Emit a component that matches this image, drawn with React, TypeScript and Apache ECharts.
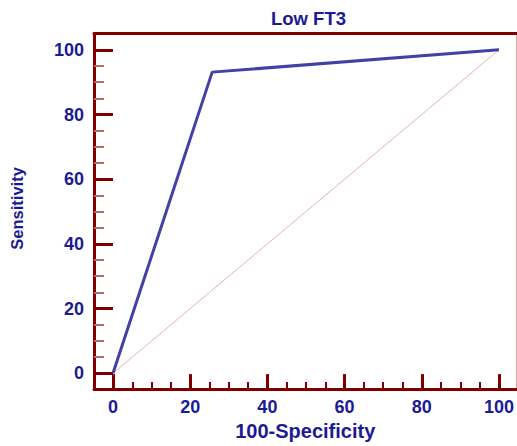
import React, { useEffect, useRef } from "react";
import * as echarts from "echarts";

const titleText = "Low FT3";
const xName = "100-Specificity";
const yName = "Sensitivity";
const majorTicks = [0, 20, 40, 60, 80, 100];
const minorTicks = [5, 10, 15, 25, 30, 35, 45, 50, 55, 65, 70, 75, 85, 90, 95];
const rocPoints: [number, number][] = [
  [0, 0],
  [25.7, 93.1],
  [100, 100],
];
const diagonalPoints: [number, number][] = [
  [0, 0],
  [100, 100],
];

const NAVY = "#1b1b94";
const MAROON = "#800000";
const FONT = "'Liberation Sans', Arial, sans-serif";

const X_MIN = -4.92;
const X_MAX = 104.53;
const Y_MIN = -4.89;
const Y_MAX = 104.98;

export default function App() {
  const ref = useRef<HTMLDivElement>(null);
  useEffect(() => {
    if (!ref.current) return;
    const chart = echarts.init(ref.current, undefined, { renderer: "svg" });
    const labelStyle = {
      color: NAVY,
      fontSize: 18,
      fontWeight: "bold" as const,
      fontFamily: FONT,
    };
    chart.setOption({
      animation: false,
      backgroundColor: "#ffffff",
      grid: { left: 94, right: 0.5, top: 33.7, bottom: 52.7, show: false },
      graphic: [
        {
          type: "text",
          x: 308.5,
          y: 18.5,
          style: {
            text: titleText,
            align: "center",
            verticalAlign: "middle",
            fill: NAVY,
            fontSize: 18.5,
            fontWeight: "bold",
            fontFamily: FONT,
          },
        },
      ],
      xAxis: [
        {
          type: "value",
          min: X_MIN,
          max: X_MAX,
          position: "bottom",
          name: xName,
          nameLocation: "middle",
          nameGap: 28,
          nameTextStyle: { ...labelStyle, fontSize: 20 },
          axisLine: { show: true, onZero: false, lineStyle: { color: MAROON, width: 3 } },
          axisTick: {
            show: true,
            inside: true,
            length: 15,
            customValues: majorTicks,
            lineStyle: { color: MAROON, width: 3 },
          },
          axisLabel: { ...labelStyle, margin: 9, customValues: majorTicks },
          splitLine: { show: false },
        },
        {
          type: "value",
          min: X_MIN,
          max: X_MAX,
          position: "bottom",
          axisLine: { show: false, onZero: false },
          axisTick: {
            show: true,
            inside: true,
            length: 7,
            customValues: minorTicks,
            lineStyle: { color: MAROON, width: 2 },
          },
          axisLabel: { show: false },
          splitLine: { show: false },
        },
        {
          type: "value",
          min: X_MIN,
          max: X_MAX,
          position: "top",
          axisLine: { show: true, onZero: false, lineStyle: { color: MAROON, width: 3 } },
          axisTick: { show: false },
          axisLabel: { show: false },
          splitLine: { show: false },
        },
      ],
      yAxis: [
        {
          type: "value",
          min: Y_MIN,
          max: Y_MAX,
          position: "left",
          name: yName,
          nameLocation: "middle",
          nameGap: 69,
          nameRotate: 90,
          nameTextStyle: { ...labelStyle, fontSize: 16.5, padding: [0, 0, 0, 6] },
          axisLine: { show: true, onZero: false, lineStyle: { color: MAROON, width: 3 } },
          axisTick: {
            show: true,
            inside: true,
            length: 19,
            customValues: majorTicks,
            lineStyle: { color: MAROON, width: 3 },
          },
          axisLabel: { ...labelStyle, margin: 10, customValues: majorTicks },
          splitLine: { show: false },
        },
        {
          type: "value",
          min: Y_MIN,
          max: Y_MAX,
          position: "left",
          axisLine: { show: false, onZero: false },
          axisTick: {
            show: true,
            inside: true,
            length: 10,
            customValues: minorTicks,
            lineStyle: { color: "#bb6a6a", width: 2 },
          },
          axisLabel: { show: false },
          splitLine: { show: false },
        },
        {
          type: "value",
          min: Y_MIN,
          max: Y_MAX,
          position: "right",
          axisLine: { show: true, onZero: false, lineStyle: { color: "#dcaaaa", width: 1 } },
          axisTick: { show: false },
          axisLabel: { show: false },
          splitLine: { show: false },
        },
      ],
      series: [
        {
          type: "line",
          data: diagonalPoints,
          xAxisIndex: 0,
          yAxisIndex: 0,
          symbol: "none",
          lineStyle: { color: "#e2b4b4", width: 1 },
          silent: true,
        },
        {
          type: "line",
          data: rocPoints,
          xAxisIndex: 0,
          yAxisIndex: 0,
          symbol: "none",
          lineStyle: { color: "#4141a6", width: 3 },
          silent: true,
        },
      ],
    });
    return () => chart.dispose();
  }, []);
  return (
    <div
      ref={ref}
      style={{ position: "fixed", left: 0, top: 0, width: 517, height: 446 }}
    />
  );
}
